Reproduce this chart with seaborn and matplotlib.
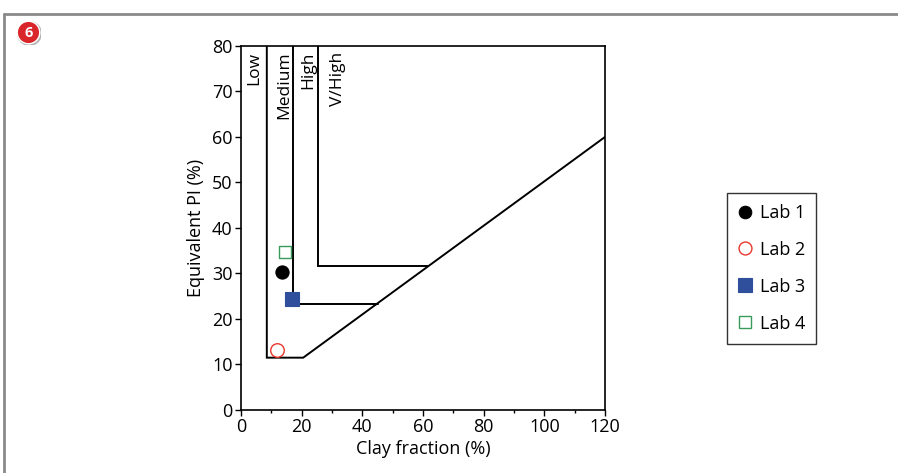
import matplotlib
matplotlib.use("Agg")
import matplotlib.pyplot as plt
from matplotlib.lines import Line2D
from matplotlib.patches import Circle
import seaborn as sns
import pandas as pd

# Lab results: clay fraction (%) vs equivalent plasticity index (%)
labs = ["Lab 1", "Lab 2", "Lab 3", "Lab 4"]
clay_fraction = [13.6, 11.9, 16.9, 14.5]
equivalent_pi = [30.3, 13.1, 24.4, 34.8]

# Activity class boundaries (clay fraction, PI)
outer_x = [8.5, 8.5, 20.5, 120]
outer_y = [80, 11.5, 11.5, 60]
medium_high_x = [17.2, 17.2, 45.0]
medium_high_y = [80, 23.4, 23.4]
high_vhigh_x = [25.4, 25.4, 61.6]
high_vhigh_y = [80, 31.6, 31.6]
class_labels = ["Low", "Medium", "High", "V/High"]
class_label_x = [4.3, 14.3, 22.2, 32.0]

x_ticks = [0, 20, 40, 60, 80, 100, 120]
y_ticks = [0, 10, 20, 30, 40, 50, 60, 70, 80]

sns.set_theme(style="white")
plt.rcParams["font.family"] = ["Open Sans", "DejaVu Sans"]
plt.rcParams["text.color"] = "black"
plt.rcParams["axes.labelcolor"] = "black"
plt.rcParams["xtick.color"] = "black"
plt.rcParams["ytick.color"] = "black"

fig = plt.figure(figsize=(8.98, 4.73), dpi=100)
ax = fig.add_axes([0.2684, 0.1332, 0.4053, 0.7696])

for bx, by in [(outer_x, outer_y), (medium_high_x, medium_high_y),
               (high_vhigh_x, high_vhigh_y)]:
    ax.plot(bx, by, color="black", lw=1.4, solid_joinstyle="miter", zorder=2)

for lbl, lx in zip(class_labels, class_label_x):
    ax.text(lx, 78.8, lbl, rotation=90, ha="center", va="top",
            fontsize=12.5, color="black")

df = pd.DataFrame({"lab": labs, "clay": clay_fraction, "pi": equivalent_pi})
styles = {
    "Lab 1": dict(marker="o", s=90, facecolor="black", edgecolor="black", lw=0.8),
    "Lab 2": dict(marker="o", s=95, facecolor="white", edgecolor="#e8372c", lw=1.0),
    "Lab 3": dict(marker="s", s=105, facecolor="#2f4f9c", edgecolor="#2f4f9c", lw=0.8),
    "Lab 4": dict(marker="s", s=75, facecolor="white", edgecolor="#3a9a5c", lw=1.0),
}
for lab in labs:
    st = styles[lab]
    sns.scatterplot(data=df[df["lab"] == lab], x="clay", y="pi", ax=ax,
                    marker=st["marker"], s=st["s"], color=st["facecolor"],
                    edgecolor=st["edgecolor"], linewidth=st["lw"], zorder=3,
                    legend=False)

ax.set_xlim(0, 120)
ax.set_ylim(0, 80)
ax.set_xticks(x_ticks)
ax.set_yticks(y_ticks)
ax.set_xticks(range(10, 120, 20), minor=True)
ax.tick_params(axis="both", which="major", direction="out", length=4, width=1,
               labelsize=13, color="black", bottom=True, left=True, pad=2)
ax.tick_params(axis="x", which="minor", direction="out", length=2.5, width=1,
               bottom=True, color="black")
for sp in ax.spines.values():
    sp.set_color("black")
    sp.set_linewidth(1.2)
ax.set_xlabel("Clay fraction (%)", fontsize=13, labelpad=3)
ax.set_ylabel("Equivalent PI (%)", fontsize=13, labelpad=5)

handles = []
for lab in labs:
    st = styles[lab]
    ms = (st["s"] ** 0.5) * 0.95
    handles.append(Line2D([], [], linestyle="none", marker=st["marker"],
                          markersize=ms, markerfacecolor=st["facecolor"],
                          markeredgecolor=st["edgecolor"], markeredgewidth=st["lw"],
                          label=lab))
leg = fig.legend(handles=handles, loc="upper left",
                 bbox_to_anchor=(727 / 898, 1 - 193 / 473),
                 frameon=True, fancybox=False, fontsize=13,
                 labelspacing=1.05, handlelength=0.8, handletextpad=0.4,
                 borderpad=0.6, borderaxespad=0)
leg.get_frame().set_edgecolor("black")
leg.get_frame().set_linewidth(1.0)

# Panel frame and number badge
fig.add_artist(Line2D([4 / 898, 4 / 898], [0, 1 - 14 / 473],
                      transform=fig.transFigure, color="#8a8a8a", lw=2))
fig.add_artist(Line2D([4 / 898, 1], [1 - 14 / 473, 1 - 14 / 473],
                      transform=fig.transFigure, color="#8a8a8a", lw=2))
badge_ax = fig.add_axes([16 / 898, 1 - 45 / 473, 25 / 898, 25 / 473])
badge_ax.set_xlim(-1, 1)
badge_ax.set_ylim(-1, 1)
badge_ax.set_aspect("equal")
badge_ax.axis("off")
badge_ax.add_patch(Circle((0.08, -0.08), 0.95, color="#999999", alpha=0.6))
badge_ax.add_patch(Circle((0, 0), 0.9, facecolor="#d9262b", edgecolor="white", lw=1.0))
badge_ax.text(0, -0.02, "6", ha="center", va="center", color="white",
              fontsize=10.5, fontweight="bold")

fig.savefig("out.png", dpi=100, facecolor="white")
